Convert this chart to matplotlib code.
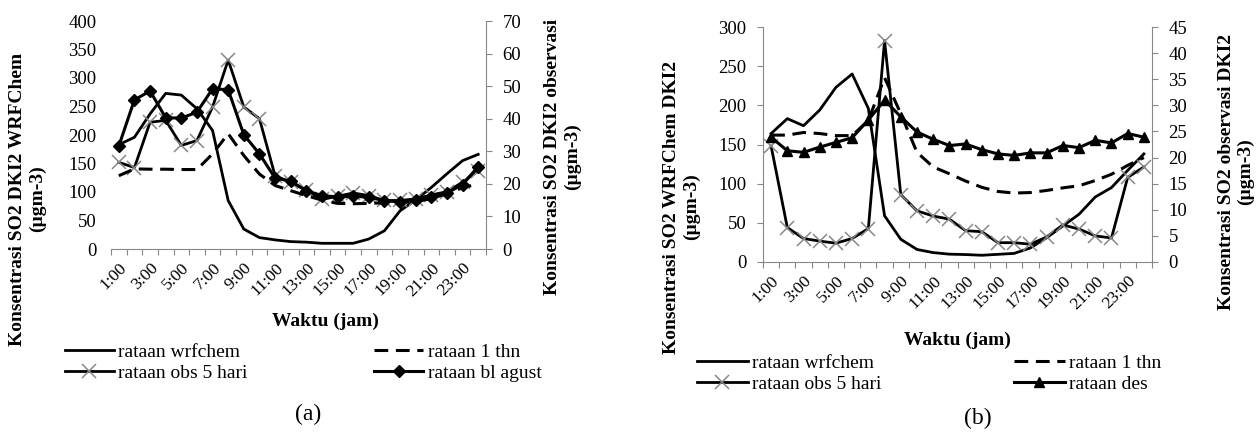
import matplotlib.pyplot as plt
from matplotlib.transforms import ScaledTranslation
import numpy as np

plt.rcParams["font.family"] = ["Liberation Serif", "DejaVu Serif"]

jam = ["%d:00" % h for h in range(1, 25)]

# (a) bulan agustus - wrfchem on left axis, observations on right axis
wrf_a = [183, 196, 237, 273, 270, 246, 208, 85, 35, 20, 16, 13,
         12, 10, 10, 10, 17.5, 32, 67, 86, 108, 132, 155, 166]
obs5_a = [26.6, 25.0, 38.9, 39.5, 31.8, 33.3, 43.6, 58.0, 43.6, 40.0, 22.5, 20.5,
          18.0, 15.2, 16.2, 17.2, 16.4, 14.9, 14.9, 15.4, 16.6, 17.6, 20.5, 24.0]
thn_a = [22.5, 24.6, 24.5, 24.5, 24.4, 24.4, 29.2, 35.4, 28.7, 23.0, 19.5, 17.9,
         16.4, 15.0, 14.0, 13.9, 14.0, 14.2, 14.3, 14.5, 15.5, 17.0, 18.8, 20.0]
agust_a = [31.6, 45.8, 48.5, 40.3, 40.2, 42.0, 49.2, 48.9, 35.1, 29.2, 21.8, 20.8,
           17.9, 16.4, 16.0, 16.2, 15.9, 14.8, 14.5, 14.9, 15.9, 17.2, 19.8, 25.3]

# (b) bulan desember
wrf_b = [164, 183, 174, 194, 223, 240, 196, 59, 29, 16, 12, 10,
         9.5, 8.6, 9.8, 11, 18, 31, 46, 61, 83, 95, 117, 138]
obs5_b = [22.2, 6.6, 4.5, 4.0, 3.6, 4.5, 6.4, 42.4, 12.9, 9.8, 8.8, 8.2,
          6.0, 5.8, 3.7, 3.7, 3.4, 4.8, 7.1, 6.3, 5.0, 4.6, 16.2, 18.2]
thn_b = [24.3, 24.3, 24.8, 24.6, 24.2, 24.2, 27.1, 35.3, 28.4, 21.0, 18.2, 16.9,
         15.5, 14.3, 13.5, 13.2, 13.3, 13.7, 14.2, 14.6, 15.6, 16.8, 18.5, 20.0]
des_b = [23.9, 21.3, 21.0, 22.0, 22.9, 23.8, 27.2, 31.0, 27.8, 24.9, 23.5, 22.3,
         22.6, 21.5, 20.7, 20.4, 20.9, 20.9, 22.3, 21.9, 23.3, 22.8, 24.6, 23.9]

W, H = 1258, 433
gray = "#888888"
fs_tick = 13.5
fs_x = 12.5
fs_leg = 14
fs_lab = 14

fig = plt.figure(figsize=(W / 100, H / 100), dpi=100)
shift = ScaledTranslation(3 / 100, 0, fig.dpi_scale_trans)


def add_px_axes(x0, y0, x1, y1):
    return fig.add_axes([x0 / W, 1 - y1 / H, (x1 - x0) / W, (y1 - y0) / H])


def panel(box, wrf, obs5, thn, mon, mon_lab, mon_mk, mon_ms, lim1, step1, lim2, step2, left_spine):
    xs = np.arange(1, 25)
    ax = add_px_axes(*box)
    ax2 = ax.twinx()

    l1, = ax.plot(xs, wrf, color="black", lw=2)
    l2, = ax2.plot(xs, obs5, color="black", lw=2, marker="x", ms=10,
                   mec=gray, mew=1.1)
    l3, = ax2.plot(xs, thn, color="black", lw=2.2, ls=(0, (4.5, 2.5)))
    l4, = ax2.plot(xs, mon, color="black", lw=2.2, marker=mon_mk, ms=mon_ms)

    ax.set_xlim(0.5, 24.5)
    ax.set_ylim(0, lim1)
    ax.set_yticks(np.arange(0, lim1 + 1, step1))
    ax2.set_ylim(0, lim2)
    ax2.set_yticks(np.arange(0, lim2 + 1, step2))

    ax.set_xticks(np.arange(0.5, 25, 1))
    ax.set_xticklabels([])
    ax.set_xticks(xs[::2], jam[::2], minor=True, rotation=45, ha="right",
                  va="top", rotation_mode="anchor")
    for t in ax.get_xticklabels(minor=True):
        t.set_transform(t.get_transform() + shift)
    ax.tick_params(axis="x", which="major", length=4, color=gray)
    ax.tick_params(axis="x", which="minor", length=0, pad=8, labelsize=fs_x)

    for s in ["top", "right"]:
        ax.spines[s].set_visible(False)
    for s in ["top", "left", "bottom"]:
        ax2.spines[s].set_visible(False)
    ax.spines["bottom"].set_color(gray)
    ax2.spines["right"].set_color(gray)
    if left_spine:
        ax.spines["left"].set_color(gray)
        ax.tick_params(axis="y", length=4.3, color=gray, labelsize=fs_tick, pad=7.5)
    else:
        ax.spines["left"].set_visible(False)
        ax.tick_params(axis="y", length=0, labelsize=fs_tick, pad=10.5)
    ax2.tick_params(axis="y", length=4.3, color=gray, labelsize=fs_tick, pad=7.5)

    return [l1, l2, l3, l4], ["rataan wrfchem", "rataan obs 5 hari", "rataan 1 thn", mon_lab]


def ylabel(x, y, s):
    fig.text(x / W, 1 - y / H, s, rotation=90, ha="center", va="center",
             fontsize=fs_lab, fontweight="bold", multialignment="center", linespacing=1.15)


def legend(handles, labels, x, y, hl, cs):
    fig.legend(handles, labels, loc="upper left", bbox_to_anchor=(x / W, 1 - y / H),
               ncol=2, frameon=False, fontsize=fs_leg, handlelength=hl, handletextpad=0.25,
               columnspacing=cs, labelspacing=0.2, borderpad=0, borderaxespad=0)


# panel (a)
h, lab = panel((111, 21, 486, 249), wrf_a, obs5_a, thn_a, agust_a, "rataan bl agust",
               "D", 6, 400, 50, 70, 10, False)
ylabel(27.5, 199, "Konsentrasi SO2 DKI2 WRFChem\n(µgm-3)")
ylabel(562.5, 157, "Konsentrasi SO2 DKI2 observasi\n(µgm-3)")
fig.text(325 / W, 1 - 321 / H, "Waktu (jam)", ha="center", va="center",
         fontsize=fs_lab, fontweight="bold")
legend(h, lab, 65, 343, 2.5, 6.5)
fig.text(308 / W, 1 - 414 / H, "(a)", ha="center", va="center", fontsize=17)

# panel (b)
h, lab = panel((763, 27, 1152, 262), wrf_b, obs5_b, thn_b, des_b, "rataan des",
               "^", 7.5, 300, 50, 45, 5, True)
ylabel(681.5, 207, "Konsentrasi SO2 WRFChem DKI2\n(µgm-3)")
ylabel(1236, 172, "Konsentrasi SO2 observasi DKI2\n(µgm-3)")
fig.text(957 / W, 1 - 340 / H, "Waktu (jam)", ha="center", va="center",
         fontsize=fs_lab, fontweight="bold")
legend(h, lab, 697, 354, 2.6, 6.8)
fig.text(978 / W, 1 - 418 / H, "(b)", ha="center", va="center", fontsize=17)

fig.savefig("out.png", dpi=100)
